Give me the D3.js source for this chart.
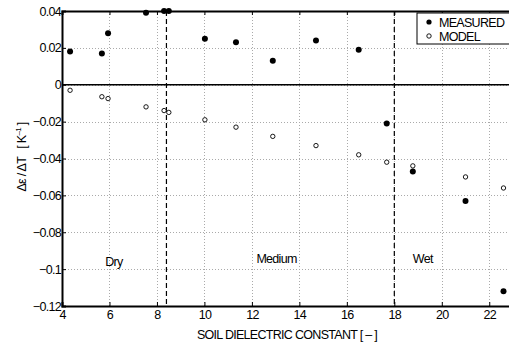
<!DOCTYPE html>
<html>
<head>
<meta charset="utf-8">
<script src="https://cdn.jsdelivr.net/npm/d3@7"></script>
<style>
  body { margin: 0; background: #fff; }
  svg { display: block; font-family: "Liberation Sans", Arial, sans-serif; }
  .tick text { font-size: 12.5px; letter-spacing: -0.7px; fill: #000; }
  .lbl { font-size: 12.5px; letter-spacing: -0.7px; fill: #000; white-space: pre; }
</style>
</head>
<body>
<div id="chart"></div>
<script>
// soil dielectric constant of each sample
const eps = [4.34, 5.68, 5.94, 7.54, 8.3, 8.5, 10.02, 11.33, 12.88, 14.7, 16.5, 17.68, 18.78, 21.0, 22.6];
// d(eps)/dT, measured and modelled
const measured = [0.018, 0.017, 0.028, 0.039, 0.040, 0.040, 0.025, 0.023, 0.013, 0.024, 0.019, -0.021, -0.047, -0.063, -0.112];
const model = [-0.003, -0.0065, -0.0075, -0.012, -0.014, -0.015, -0.019, -0.023, -0.028, -0.033, -0.038, -0.042, -0.044, -0.050, -0.056];
const xTicks = [4, 6, 8, 10, 12, 14, 16, 18, 20, 22];
const yTicks = [0.04, 0.02, 0, -0.02, -0.04, -0.06, -0.08, -0.1, -0.12];
// class boundaries and names
const bounds = [8.4, 18];
const zones = [
  { name: "Dry", x: 5.82, y: -0.0983 },
  { name: "Medium", x: 12.19, y: -0.0967 },
  { name: "Wet", x: 18.78, y: -0.0967 }
];

const width = 509, height = 350;
const margin = { top: 11, right: -4, bottom: 44, left: 62 };

const svg = d3.select("#chart").append("svg")
  .attr("width", width)
  .attr("height", height);

const x = d3.scaleLinear().domain([4, 23]).range([margin.left, width - margin.right]);
const y = d3.scaleLinear().domain([-0.12, 0.04]).range([height - margin.bottom, margin.top]);

const fmt = (d) => (d === 0 ? "0" : d3.format("")(d).replace("-", "\u2013"));

// dotted grid
const grid = svg.append("g").attr("stroke", "#aaa").attr("stroke-width", 1).attr("stroke-dasharray", "1,2");
grid.selectAll("line.gx").data(xTicks.slice(1)).enter().append("line")
  .attr("x1", (d) => Math.round(x(d)) + 0.5).attr("x2", (d) => Math.round(x(d)) + 0.5)
  .attr("y1", y(0.04)).attr("y2", y(-0.12));
grid.selectAll("line.gy").data(yTicks.filter((d) => d !== 0.04 && d !== -0.12)).enter().append("line")
  .attr("x1", x(4)).attr("x2", width)
  .attr("y1", (d) => Math.round(y(d)) + 0.5).attr("y2", (d) => Math.round(y(d)) + 0.5);

// zero line
svg.append("line")
  .attr("x1", x(4)).attr("x2", width)
  .attr("y1", y(0)).attr("y2", y(0))
  .attr("stroke", "#000").attr("stroke-width", 1.5);

// boundary lines
svg.selectAll("line.bound").data(bounds).enter().append("line")
  .attr("x1", (d) => x(d)).attr("x2", (d) => x(d))
  .attr("y1", y(0.04)).attr("y2", y(-0.12))
  .attr("stroke", "#000").attr("stroke-width", 1.2).attr("stroke-dasharray", "5,3");

// axes, ticks inward
const xAxis = svg.append("g")
  .attr("transform", `translate(0,${y(-0.12)})`)
  .call(d3.axisBottom(x).tickValues(xTicks).tickSize(-4).tickPadding(7).tickFormat((d) => d));
const xTop = svg.append("g")
  .attr("transform", `translate(0,${y(0.04)})`)
  .call(d3.axisTop(x).tickValues(xTicks).tickSize(-4).tickFormat(""));
const yAxis = svg.append("g")
  .attr("transform", `translate(${x(4)},0)`)
  .call(d3.axisLeft(y).tickValues(yTicks).tickSize(-4).tickPadding(3).tickFormat(fmt));

[xAxis, xTop, yAxis].forEach((g) => {
  g.select(".domain").attr("stroke-width", 2).attr("stroke", "#000");
  g.selectAll(".tick line").attr("stroke", "#000");
});
xAxis.selectAll(".tick text").attr("dy", "0.5em");
yAxis.selectAll(".tick text").attr("dx", "2px");

// zone labels
svg.selectAll("text.zone").data(zones).enter().append("text")
  .attr("class", "lbl")
  .attr("x", (d) => x(d.x)).attr("y", (d) => y(d.y))
  .text((d) => d.name);

// points
const pts = eps.map((e, i) => ({ e: e, m: measured[i], p: model[i] }));
svg.append("g").selectAll("circle").data(pts).enter().append("circle")
  .attr("cx", (d) => x(d.e)).attr("cy", (d) => y(d.p)).attr("r", 2.2)
  .attr("fill", "#fff").attr("stroke", "#000").attr("stroke-width", 0.9);
svg.append("g").selectAll("circle").data(pts).enter().append("circle")
  .attr("cx", (d) => x(d.e)).attr("cy", (d) => y(d.m)).attr("r", 3)
  .attr("fill", "#000");

// legend
const leg = svg.append("g").attr("transform", "translate(417,13)");
leg.append("rect").attr("x", 0).attr("y", 0).attr("width", 100).attr("height", 31)
  .attr("fill", "#fff").attr("stroke", "#000").attr("stroke-width", 1);
leg.append("circle").attr("cx", 12).attr("cy", 9).attr("r", 2.6).attr("fill", "#000");
leg.append("circle").attr("cx", 12).attr("cy", 23).attr("r", 2.2)
  .attr("fill", "#fff").attr("stroke", "#000").attr("stroke-width", 0.9);
leg.append("text").attr("class", "lbl").attr("x", 22).attr("y", 13.5).text("MEASURED");
leg.append("text").attr("class", "lbl").attr("x", 22).attr("y", 27.5).text("MODEL");

// axis titles
svg.append("text").attr("class", "lbl")
  .attr("x", 287).attr("y", 339).attr("text-anchor", "middle")
  .text("SOIL DIELECTRIC CONSTANT [ \u2013 ]");
const yl = svg.append("text").attr("class", "lbl")
  .attr("transform", "translate(26,157) rotate(-90)")
  .attr("text-anchor", "middle");
yl.append("tspan").text("\u0394\u03b5 / \u0394T   [ K");
yl.append("tspan").attr("dy", -5).attr("font-size", "8px").text("\u20131");
yl.append("tspan").attr("dy", 5).text(" ]");
</script>
</body>
</html>
